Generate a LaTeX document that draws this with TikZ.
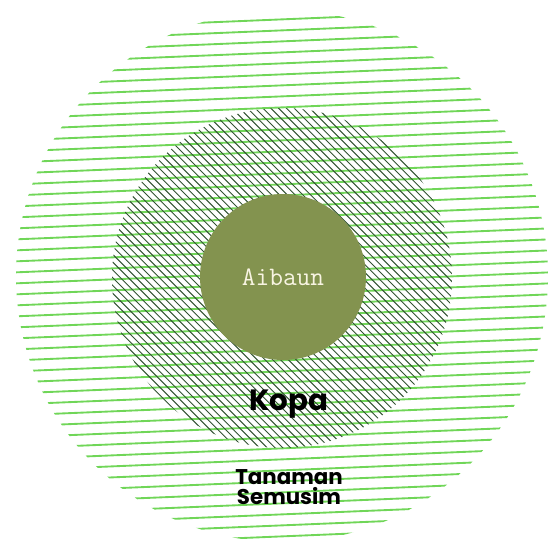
\documentclass[tikz,border=0pt]{standalone}
\usepackage{fontspec}
\newfontfamily\poppins{Poppins}
\definecolor{linegreen}{RGB}{112,214,88}
\definecolor{hatchgreen}{RGB}{50,82,50}
\definecolor{olive}{RGB}{131,147,79}
\definecolor{cream}{RGB}{248,244,226}
\tikzset{every picture/.style={line width=0.75pt}}

\begin{document}
\begin{tikzpicture}[x=0.75pt,y=0.75pt,yscale=-1,xscale=1,
  greenline/.style={draw=linegreen, line width=1.4pt},
  hatchline/.style={draw=hatchgreen, line width=0.7pt},
  ringtext/.style={inner sep=0.75pt, align=center, text=black}]
\useasboundingbox (0,0) rectangle (558,543);
\coordinate (outer) at (282,276);
\coordinate (middle) at (282,278);

%Shape: Circle [outer ring, hatched with green lines]
\begin{scope}
\clip (outer) circle (266);
\foreach \k in {-26,...,26}
  \draw[greenline] (0,272+11*\k+12) -- (558,272+11*\k-11);
\end{scope}

%Shape: Circle [middle ring, hatched with dark lines]
\begin{scope}
\clip (middle) circle (170);
\foreach \x in {-260,-252.2,...,460}
  \draw[hatchline] (\x,100) -- ++(360,360);
\end{scope}

%Shape: Circle [centre]
\node[circle, fill=olive, minimum size=124.5pt, inner sep=0pt, text=cream,
  font=\ttfamily\fontsize{20}{24}\selectfont] (aibaun) at (283,277) {Aibaun};

% Text Node
\node[ringtext, anchor=base, font=\poppins\bfseries\fontsize{22}{26}\selectfont] (kopa) at (289,410) {Kopa};
% Text Node
\node[ringtext, font=\poppins\bfseries\fontsize{16}{15}\selectfont] (semusim) at (289,487) {Tanaman\\Semusim};

\end{tikzpicture}
\end{document}
